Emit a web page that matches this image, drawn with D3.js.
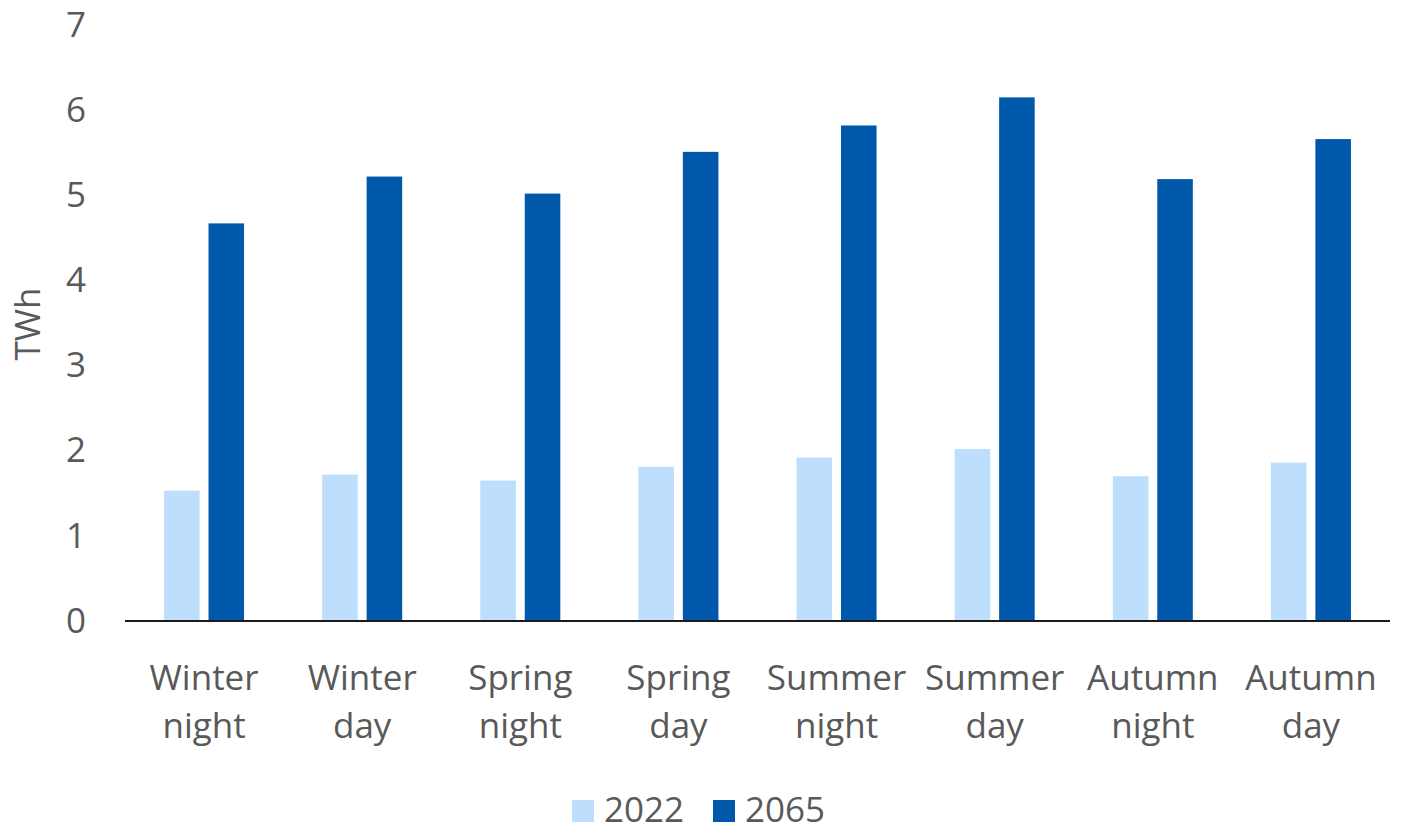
<!DOCTYPE html>
<html>
<head>
<meta charset="utf-8">
<script src="https://cdn.jsdelivr.net/npm/d3@7"></script>
<style>
  html, body { margin: 0; padding: 0; background: #ffffff; }
  svg { display: block; }
  svg text { font-family: "Open Sans", "Noto Sans", sans-serif; }
</style>
</head>
<body>
<svg id="chart" width="1403" height="831"></svg>
<script>
// Seasonal electricity demand by time of day
const categories = [
  ["Winter", "night"], ["Winter", "day"],
  ["Spring", "night"], ["Spring", "day"],
  ["Summer", "night"], ["Summer", "day"],
  ["Autumn", "night"], ["Autumn", "day"]
];
const seriesNames = ["2022", "2065"];
const values2022 = [1.53, 1.72, 1.65, 1.81, 1.92, 2.02, 1.70, 1.86];
const values2065 = [4.67, 5.22, 5.02, 5.51, 5.82, 6.15, 5.19, 5.66];
const yTicks = [0, 1, 2, 3, 4, 5, 6, 7];
const yTitle = "TWh";

const colors = { "2022": "#bddffd", "2065": "#0058ab" };
const textColor = "#595959";
const fontFamily = "'Open Sans', 'Noto Sans', sans-serif";

const svg = d3.select("#chart");

const keys = categories.map(c => c.join(" "));
const rows = keys.map((k, i) => ({ key: k, lines: categories[i], "2022": values2022[i], "2065": values2065[i] }));

const x0 = d3.scaleBand().domain(keys).range([125, 1390]).paddingInner(0.494).paddingOuter(0.247);
const x1 = d3.scaleBand().domain(seriesNames).range([0, x0.bandwidth()]).paddingInner(0.2);
const y = d3.scaleLinear().domain([0, 7]).range([621, 25]);

// bars
const groups = svg.append("g").selectAll("g").data(rows).join("g")
  .attr("transform", d => `translate(${x0(d.key)},0)`);
groups.selectAll("rect").data(d => seriesNames.map(s => ({ s, v: d[s] }))).join("rect")
  .attr("x", d => x1(d.s))
  .attr("width", x1.bandwidth())
  .attr("y", d => y(d.v))
  .attr("height", d => y(0) - y(d.v))
  .attr("fill", d => colors[d.s]);

// y axis labels (no axis line)
const yAxis = svg.append("g").attr("transform", "translate(86,0)")
  .call(d3.axisLeft(y).tickValues(yTicks).tickSize(0).tickPadding(0).tickFormat(d3.format("d")));
yAxis.attr("font-family", fontFamily).attr("font-size", 35);
yAxis.select(".domain").remove();
yAxis.selectAll("text").attr("fill", textColor);

// baseline
svg.append("line")
  .attr("x1", 125).attr("x2", 1390)
  .attr("y1", y(0)).attr("y2", y(0))
  .attr("stroke", "#1a1a1a").attr("stroke-width", 2);

// category labels, two lines each
const xLabels = svg.append("g").selectAll("text").data(rows).join("text")
  .attr("text-anchor", "middle")
  .attr("font-size", 35)
  .attr("fill", textColor)
  .attr("transform", d => `translate(${x0(d.key) + x0.bandwidth() / 2},690)`);
xLabels.selectAll("tspan").data(d => d.lines).join("tspan")
  .attr("x", 0)
  .attr("y", (d, i) => i * 48)
  .text(d => d);

// y title
svg.append("text")
  .attr("transform", `translate(40,324) rotate(-90)`)
  .attr("text-anchor", "middle")
  .attr("font-size", 35)
  .attr("fill", textColor)
  .text(yTitle);

// legend
const legendX = [572, 713];
const legend = svg.append("g").selectAll("g").data(seriesNames).join("g")
  .attr("transform", (d, i) => `translate(${legendX[i]},800)`);
legend.append("rect").attr("width", 22).attr("height", 22).attr("fill", d => colors[d]);
legend.append("text")
  .attr("x", 32).attr("y", 22)
  .attr("font-size", 35)
  .attr("fill", textColor)
  .text(d => d);
</script>
</body>
</html>
